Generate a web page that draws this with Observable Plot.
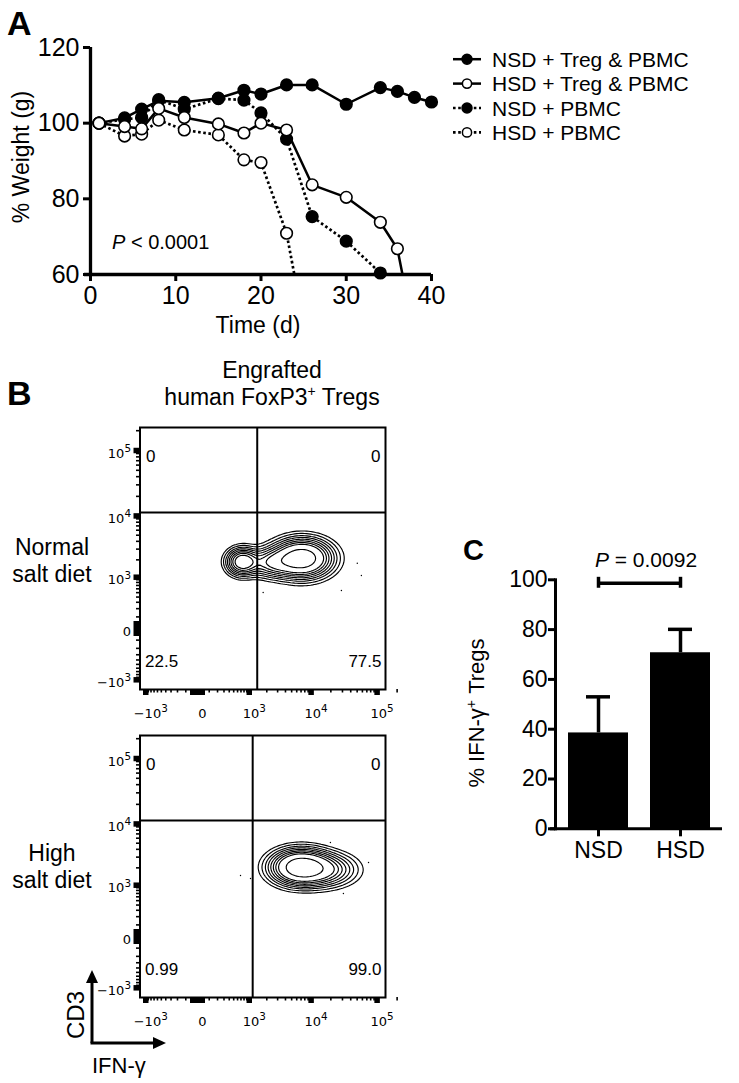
<!DOCTYPE html>
<html><head><meta charset="utf-8">
<script src="https://cdn.jsdelivr.net/npm/d3@7"></script>
<script src="https://cdn.jsdelivr.net/npm/@observablehq/plot@0.6"></script>
<style>
html,body{margin:0;padding:0;background:#fff;}
#fig{position:relative;width:739px;height:1083px;overflow:hidden;font-family:"Liberation Sans",Arial,Helvetica,sans-serif;}
#fig > svg{position:absolute;}
</style></head><body><div id="fig"></div>
<script>
// ---------------- Panel A data: % weight over time ----------------
const dayNsdTreg = [1,4,6,8,11,15,18,20,23,26,30,34,36,38,40];
const wNsdTreg   = [100,101.4,103.7,105.9,105.5,106.6,108.7,107.7,110.1,110.1,105.0,109.4,108.4,106.8,105.6];
const dayHsdTreg = [1,4,6,8,11,15,18,20,23,26,30,34,36,38];
const wHsdTreg   = [100,99.1,98.5,103.9,101.5,99.8,97.4,100.0,98.2,83.7,80.4,73.8,66.8,44];
const dayNsdPbmc = [1,4,6,8,11,15,18,20,23,26,30,34];
const wNsdPbmc   = [100,101.0,101.5,106.2,103.7,106.5,106.1,102.7,95.8,75.3,68.8,60.4];
const dayHsdPbmc = [1,4,6,8,11,15,18,20,23,26];
const wHsdPbmc   = [100,96.6,97.1,100.8,98.2,96.9,90.3,89.6,70.9,35];
const xTicksA = [0,10,20,30,40];
const yTicksA = [60,80,100,120];
const legendNames = ["NSD + Treg & PBMC","HSD + Treg & PBMC","NSD + PBMC","HSD + PBMC"];

// ---------------- Panel B data: flow cytometry ----------------
const flowTicks = [-1000, 0, 1000, 10000, 100000];
const flowTickLabels = ["\u221210^3", "0", "10^3", "10^4", "10^5"];
const quadNSD = ["0", "0", "22.5", "77.5"];
const quadHSD = ["0", "0", "0.99", "99.0"];
// population components (centre in fluorescence units, spread in log units, weight)
const nsdCompX = [7270, 742, 2493];
const nsdCompY = [2118, 1856, 1795];
const nsdSpreadX = [0.55, 0.30, 0.50];
const nsdSpreadY = [0.36, 0.26, 0.28];
const nsdWeight = [1, 0.55, 0.35];
const hsdCompX = [6832, 16090];
const hsdCompY = [2049, 1856];
const hsdSpreadX = [0.55, 0.60];
const hsdSpreadY = [0.33, 0.32];
const hsdWeight = [1, 0.35];
const contourLevels = [0.03, 0.055, 0.09, 0.13, 0.18, 0.24, 0.31, 0.4, 0.7];
const nsdEventsX = [50200, 1740, 28900, 57900];
const nsdEventsY = [1756, 503, 554, 1072];
const hsdEventsX = [686, 1052, 74200, 19700, 31000];
const hsdEventsY = [1482, 1317, 2452, 5120, 696];
const nsdGate = {x: 1380, y: 11300};
const hsdGate = {x: 1150, y: 11300};

// ---------------- Panel C data ----------------
const groupsC = ["NSD", "HSD"];
const meanC = [38.5, 70.7];
const semC = [14.5, 9.4];
const yTicksC = [0,20,40,60,80,100];
const pTextC = "0.0092";

const FONT = '"Liberation Sans", Arial, Helvetica, sans-serif';
const fig = document.getElementById("fig");
function place(el, left, top){ el.style.left = left + "px"; el.style.top = top + "px"; fig.appendChild(el); }

// ---------------- Panel A ----------------
const seriesA = [
  {name: "NSD + PBMC", day: dayNsdPbmc, w: wNsdPbmc, filled: true, dotted: true},
  {name: "HSD + PBMC", day: dayHsdPbmc, w: wHsdPbmc, filled: false, dotted: true},
  {name: "NSD + Treg & PBMC", day: dayNsdTreg, w: wNsdTreg, filled: true, dotted: false},
  {name: "HSD + Treg & PBMC", day: dayHsdTreg, w: wHsdTreg, filled: false, dotted: false}
];
const marksA = seriesA.flatMap(s => {
  const pts = s.day.map((d, i) => ({day: d, w: s.w[i]}));
  const lineOpts = {x: "day", y: "w", stroke: "black", strokeWidth: 2.5, clip: true};
  if (s.dotted) { lineOpts.strokeDasharray = "2.6,2.6"; lineOpts.strokeWidth = 2.7; lineOpts.strokeLinecap = "butt"; }
  return [
    Plot.line(pts, lineOpts),
    Plot.dot(pts.filter(p => p.w >= 60), {x: "day", y: "w", r: 5.8, fill: s.filled ? "black" : "white", stroke: "black", strokeWidth: 1.6})
  ];
});
const plotA = Plot.plot({
  width: 440, height: 340, marginLeft: 90, marginRight: 9, marginTop: 47, marginBottom: 66,
  style: {background: "transparent", fontFamily: FONT, fontSize: "25px", color: "black", overflow: "visible"},
  x: {domain: [0, 40]}, y: {domain: [60, 120]},
  marks: [
    Plot.axisX({ticks: xTicksA, tickSize: 7, strokeWidth: 3, tickPadding: 5, fontSize: 25, label: null}),
    Plot.axisY({ticks: yTicksA, tickSize: 7, strokeWidth: 3, tickPadding: 4, fontSize: 25, label: null}),
    ...marksA,
    Plot.ruleX([0], {strokeWidth: 3.3}),
    Plot.ruleY([60], {strokeWidth: 3.3, insetLeft: -6})
  ]
});
place(plotA, 0, 0);

// ---------------- Panel B ----------------
const K = 200; // constant of the symmetric-log cytometry display
const su = v => Math.sign(v) * Math.log1p(Math.abs(v) / K);
function mixture(cx, cy, sx, sy, w) {
  const ux0 = cx.map(su), uy0 = cy.map(su);
  return (x, y) => {
    const ux = su(x), uy = su(y);
    let s = 0;
    for (let i = 0; i < cx.length; i++) {
      const dx = (ux - ux0[i]) / sx[i], dy = (uy - uy0[i]) / sy[i];
      s += w[i] * Math.exp(-(dx * dx + dy * dy) / 2);
    }
    return s;
  };
}
const minorTicks = [];
for (let k = 1; k <= 9; k++) { minorTicks.push(k * 100, -k * 100); }
for (const dec of [1000, 10000]) for (let k = 2; k <= 9; k++) minorTicks.push(k * dec);
minorTicks.push(200000);
const xDomF = [-1264, 133700];
const yDomF = [-1483, 223600];

// turn "10^3" into "10" + raised exponent
function superscripts(svg) {
  d3.select(svg).selectAll("text").each(function () {
    const m = /^(.*)\^(\d)$/.exec(this.textContent);
    if (!m) return;
    const sel = d3.select(this);
    sel.text(m[1]);
    sel.append("tspan").attr("dy", "-0.55em").attr("font-size", "0.8em").text(m[2]);
  });
  return svg;
}

function flowPlot(comps, evX, evY, gate, quad) {
  const events = evX.map((x, i) => ({x, y: evY[i]}));
  const ticksObj = flowTicks.map((v, i) => ({v, label: flowTickLabels[i]}));
  const q = (t, fa, ta, dx, dy) => Plot.text([t], {text: d => d, frameAnchor: fa, textAnchor: ta, dx, dy, fontSize: 17});
  const svg = Plot.plot({
    width: 320, height: 330, marginLeft: 59.5, marginRight: 15, marginTop: 27, marginBottom: 41,
    style: {background: "transparent", fontFamily: FONT, color: "black", overflow: "visible"},
    x: {type: "symlog", constant: K, domain: xDomF},
    y: {type: "symlog", constant: K, domain: yDomF},
    marks: [
      Plot.contour({value: mixture(...comps), x1: xDomF[0], x2: xDomF[1], y1: yDomF[0], y2: yDomF[1],
        thresholds: contourLevels, stroke: "black", strokeWidth: 1.15, fill: "none"}),
      Plot.dot(events, {x: "x", y: "y", r: 0.7, fill: "black"}),
      Plot.ruleX([gate.x], {strokeWidth: 2}),
      Plot.ruleY([gate.y], {strokeWidth: 2}),
      Plot.frame({strokeWidth: 2}),
      Plot.axisY({anchor: "left", ticks: minorTicks, tickSize: 3.5, strokeWidth: 1.6, tickFormat: () => ""}),
      Plot.axisX({anchor: "bottom", ticks: minorTicks, tickSize: 3.5, strokeWidth: 1.6, tickFormat: () => ""}),
      Plot.axisY({anchor: "left", ticks: flowTicks.filter(v => v !== 0), tickSize: 6, strokeWidth: 5.5, tickFormat: () => ""}),
      Plot.axisX({anchor: "bottom", ticks: flowTicks.filter(v => v !== 0), tickSize: 6, strokeWidth: 5.5, tickFormat: () => ""}),
      Plot.axisY({anchor: "left", ticks: [0], tickSize: 6, strokeWidth: 15, tickFormat: () => ""}),
      Plot.axisX({anchor: "bottom", ticks: [0], tickSize: 6, strokeWidth: 15, tickFormat: () => ""}),
      Plot.text(ticksObj, {y: "v", text: "label", frameAnchor: "left", textAnchor: "end", dx: -9, dy: 3, fontSize: 13, fontFamily: "DejaVu Sans"}),
      Plot.text(ticksObj, {x: "v", text: "label", frameAnchor: "bottom", textAnchor: "middle", dx: 5, dy: 28, fontSize: 13, fontFamily: "DejaVu Sans"}),
      q(quad[0], "top-left", "start", 6, 22),
      q(quad[1], "top-right", "end", -5, 22),
      q(quad[2], "bottom-left", "start", 5, -23),
      q(quad[3], "bottom-right", "end", -4, -23)
    ]
  });
  return superscripts(svg);
}
place(flowPlot([nsdCompX, nsdCompY, nsdSpreadX, nsdSpreadY, nsdWeight], nsdEventsX, nsdEventsY, nsdGate, quadNSD), 80, 400);
place(flowPlot([hsdCompX, hsdCompY, hsdSpreadX, hsdSpreadY, hsdWeight], hsdEventsX, hsdEventsY, hsdGate, quadHSD), 80, 708);

// ---------------- Panel C ----------------
const dataC = groupsC.map((g, i) => ({group: g, mean: meanC[i], hi: meanC[i] + semC[i]}));
const plotC = Plot.plot({
  width: 319, height: 340, marginLeft: 135, marginRight: 17, marginTop: 39.3, marginBottom: 51.7,
  style: {background: "transparent", fontFamily: FONT, fontSize: "23px", color: "black", overflow: "visible"},
  x: {type: "band", domain: groupsC, paddingInner: 0.274, paddingOuter: 0.147},
  y: {domain: [0, 100]},
  marks: [
    Plot.barY(dataC, {x: "group", y: "mean", fill: "black"}),
    Plot.ruleX(dataC, {x: "group", y1: "mean", y2: "hi", strokeWidth: 3.5}),
    Plot.tickY(dataC, {x: "group", y: "hi", strokeWidth: 3.5, inset: 18}),
    Plot.link([groupsC], {x1: d => d[0], x2: d => d[1], y1: () => 98.6, y2: () => 98.6, strokeWidth: 3.5}),
    Plot.ruleX(groupsC, {x: d => d, y1: 96.6, y2: 101, strokeWidth: 3.5}),
    Plot.axisY({ticks: yTicksC, tickSize: 7, strokeWidth: 3, tickPadding: 1, fontSize: 23, label: null}),
    Plot.axisX({tickSize: 8, strokeWidth: 3, tickPadding: 5, fontSize: 23, label: null}),
    Plot.frame({anchor: "left", strokeWidth: 3}),
    Plot.ruleY([0], {strokeWidth: 3, insetLeft: -5})
  ]
});
place(plotC, 420, 540);

// ---------------- text overlay & legend ----------------
const ns = "http://www.w3.org/2000/svg";
const ov = document.createElementNS(ns, "svg");
ov.setAttribute("width", 739); ov.setAttribute("height", 1083);
ov.style.left = "0px"; ov.style.top = "0px"; ov.style.pointerEvents = "none";
const legendStyle = [
  {dotted: false, filled: true}, {dotted: false, filled: false},
  {dotted: true, filled: true}, {dotted: true, filled: false}
];
let legendSvg = "";
legendNames.forEach((name, i) => {
  const base = 66.7 + i * 24.4, cy = base - 7.5, s = legendStyle[i];
  legendSvg += `<line x1="453" x2="481" y1="${cy}" y2="${cy}" stroke="black" stroke-width="${s.dotted ? 2.7 : 2.5}" ${s.dotted ? 'stroke-dasharray="2.6,2.6"' : ''}/>`;
  legendSvg += `<circle cx="467" cy="${cy}" r="${s.filled ? 5 : 4.6}" fill="${s.filled ? 'black' : 'white'}" stroke="black" stroke-width="1.5"/>`;
  legendSvg += `<text x="492" y="${base}" font-size="21">${name.replace(/&/g, "&amp;")}</text>`;
});
ov.innerHTML = `
<g font-family='${FONT}' fill="black">
  <text x="7" y="35" font-size="34" font-weight="bold">A</text>
  <text transform="translate(29,157) rotate(-90)" text-anchor="middle" font-size="23">% Weight (g)</text>
  <text x="258" y="333" text-anchor="middle" font-size="23">Time (d)</text>
  <text x="112" y="249" font-size="20"><tspan font-style="italic">P</tspan> &lt; 0.0001</text>
  ${legendSvg}
  <text x="7" y="405" font-size="34" font-weight="bold">B</text>
  <text x="272" y="378" text-anchor="middle" font-size="23">Engrafted</text>
  <text x="272" y="405" text-anchor="middle" font-size="23">human FoxP3<tspan font-size="14" dy="-9">+</tspan><tspan dy="9"> Tregs</tspan></text>
  <text x="52" y="555" text-anchor="middle" font-size="23">Normal</text>
  <text x="52" y="582" text-anchor="middle" font-size="23">salt diet</text>
  <text x="52" y="861" text-anchor="middle" font-size="23">High</text>
  <text x="52" y="888" text-anchor="middle" font-size="23">salt diet</text>
  <line x1="92" y1="1043" x2="92" y2="980" stroke="black" stroke-width="3"/>
  <path d="M92,970 L86,983 L98,983 Z" fill="black"/>
  <line x1="90.5" y1="1043" x2="155" y2="1043" stroke="black" stroke-width="3"/>
  <path d="M166,1043 L153,1037 L153,1049 Z" fill="black"/>
  <text transform="translate(84,1015) rotate(-90)" text-anchor="middle" font-size="24">CD3</text>
  <text x="92" y="1073" font-size="22">IFN-γ</text>
  <text x="463" y="560" font-size="29" font-weight="bold">C</text>
  <text x="646" y="567" text-anchor="middle" font-size="21"><tspan font-style="italic">P</tspan> = ${pTextC}</text>
  <text transform="translate(484,713) rotate(-90)" text-anchor="middle" font-size="22">% IFN-γ<tspan font-size="14" dy="-8">+</tspan><tspan dy="8"> Tregs</tspan></text>
</g>`;
fig.appendChild(ov);
</script>
</body></html>
